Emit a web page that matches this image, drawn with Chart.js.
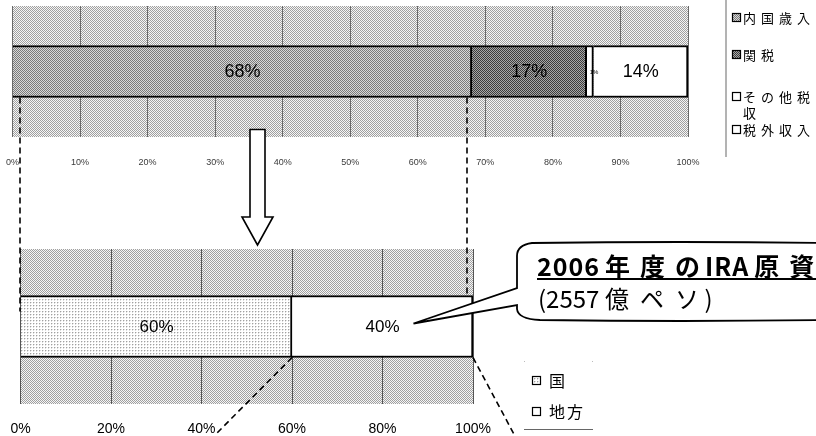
<!DOCTYPE html>
<html>
<head>
<meta charset="utf-8">
<script src="https://cdn.jsdelivr.net/npm/chart.js@4.4.1/dist/chart.umd.min.js"></script>
<style>
  html, body { margin: 0; padding: 0; background: #fff; }
  #wrap { position: relative; width: 816px; height: 436px; overflow: hidden; background: #fff; }
  #wrap canvas { position: absolute; }
  #revenueChart { left: 0; top: 0; width: 720px; height: 180px; }
  #iraChart { left: 0; top: 230px; width: 520px; height: 206px; }
  #notes { left: 0; top: 0; width: 816px; height: 436px; pointer-events: none; }
</style>
</head>
<body>
<div id="wrap">
  <canvas id="revenueChart" width="720" height="180"></canvas>
  <canvas id="iraChart" width="520" height="206"></canvas>
  <canvas id="notes" width="816" height="436"></canvas>
</div>
<script>
// National revenue composition (% of total)
const revenueSources = ['内国歳入', '関税', 'その他税収', '税外収入'];
const revenueShares = [68, 17, 1, 14];

// Split of the IRA pool between national and local government (%)
const iraRecipients = ['国', '地方'];
const iraShares = [60, 40];

// Axis ranges and tick steps
const revenueAxis = { min: 0, max: 100, step: 10 };
const iraAxis = { min: 0, max: 100, step: 20 };

// Callout text
const calloutTitle = '2006年度のIRA原資';
const calloutAmount = '(2557億ペソ)';

const CJK = '"Noto Sans CJK JP", "Noto Sans CJK SC", sans-serif';
const LATIN = '"Liberation Sans", Arial, sans-serif';

// Small raster fills that imitate the dithered shades of an office chart
function makePattern(size, paint) {
  const c = document.createElement('canvas');
  c.width = c.height = size;
  const g = c.getContext('2d');
  paint(g);
  return g.createPattern(c, 'repeat');
}
function checker(dark, light) {
  return makePattern(2, g => {
    g.fillStyle = light; g.fillRect(0, 0, 2, 2);
    g.fillStyle = dark; g.fillRect(0, 0, 1, 1); g.fillRect(1, 1, 1, 1);
  });
}
const plotShade = checker('#a0a0a0', '#f6f6f6');
const domesticShade = checker('#7a7a7a', '#d8d8d8');
const customsShade = checker('#3c3c3c', '#a8a8a8');
const nationalShade = makePattern(3, g => {
  g.fillStyle = '#ffffff'; g.fillRect(0, 0, 3, 3);
  g.fillStyle = '#a0a0a0'; g.fillRect(0, 0, 1, 1);
  g.fillStyle = '#dedede'; g.fillRect(1, 0, 1, 1); g.fillRect(0, 1, 1, 1);
});

const revenueFills = [domesticShade, customsShade, '#ffffff', '#ffffff'];
const iraFills = [nationalShade, '#ffffff'];

// Fills the plot rectangle before the grid and bars are painted
const plotFill = {
  id: 'plotFill',
  beforeDraw(chart) {
    const { left, top, width, height } = chart.chartArea;
    const ctx = chart.ctx;
    ctx.save();
    ctx.fillStyle = plotShade;
    ctx.fillRect(left, top, width, height);
    ctx.restore();
  }
};

// Percentage written in the middle of each bar segment
const segmentLabels = {
  id: 'segmentLabels',
  afterDatasetsDraw(chart) {
    const ctx = chart.ctx;
    chart.data.datasets.forEach((ds, i) => {
      chart.getDatasetMeta(i).data.forEach((bar, j) => {
        const p = bar.getCenterPoint();
        ctx.save();
        ctx.font = ds.labelFont;
        ctx.fillStyle = '#000';
        ctx.textAlign = 'center';
        ctx.textBaseline = 'middle';
        ctx.fillText(ds.data[j] + '%', p.x + (ds.labelShift || 0), p.y + 1);
        ctx.restore();
      });
    });
  }
};

function stackedBarConfig(names, values, fills, axis, opt) {
  return {
    type: 'bar',
    data: {
      labels: [''],
      datasets: names.map((name, i) => ({
        label: name,
        data: [values[i]],
        backgroundColor: fills[i],
        borderColor: '#000',
        borderWidth: opt.border,
        borderSkipped: 'start',
        barThickness: opt.thickness,
        labelFont: (opt.labelFonts && opt.labelFonts[i]) || opt.labelFont,
        labelShift: opt.labelShifts ? opt.labelShifts[i] : 0
      }))
    },
    options: {
      indexAxis: 'y',
      responsive: false,
      animation: false,
      events: [],
      layout: { padding: opt.padding },
      plugins: { legend: { display: false }, tooltip: { enabled: false } },
      scales: {
        x: {
          stacked: true,
          min: axis.min, max: axis.max,
          border: { display: false },
          // invisible tick marks push the labels down without widening the plot
          grid: { color: opt.gridColor, lineWidth: 1, drawTicks: true,
                  tickLength: opt.labelGap, tickColor: 'rgba(0,0,0,0)' },
          ticks: {
            stepSize: axis.step,
            padding: 0,
            color: opt.tickColor,
            font: { family: LATIN, size: opt.tickSize },
            maxRotation: 0,
            callback: v => v + '%'
          },
          afterFit: s => { s.height = opt.axisHeight; }
        },
        y: { stacked: true, display: false }
      }
    },
    plugins: [plotFill, segmentLabels]
  };
}

const revenueChart = new Chart(document.getElementById('revenueChart'),
  stackedBarConfig(revenueSources, revenueShares, revenueFills, revenueAxis, {
    padding: { left: 12.5, right: 32, top: 6, bottom: 0 },
    axisHeight: 43, labelGap: 20, tickSize: 9, tickColor: '#3a3a3a',
    gridColor: '#6a6a6a', thickness: 52, border: 2,
    labelFont: '18px ' + LATIN,
    labelFonts: [null, null, '6px ' + LATIN, null],
    labelShifts: [0, 0, 4, 0]
  }));

const iraChart = new Chart(document.getElementById('iraChart'),
  stackedBarConfig(iraRecipients, iraShares, iraFills, iraAxis, {
    padding: { left: 20.5, right: 47, top: 19, bottom: 0 },
    axisHeight: 32, labelGap: 17, tickSize: 14, tickColor: '#000',
    gridColor: '#555', thickness: 62, border: 2,
    labelFont: '17px ' + LATIN
  }));

// ---- annotations: connectors, arrow, legends, callout ----
const ctx = document.getElementById('notes').getContext('2d');
const iraTop = 230; // vertical offset of the lower chart's canvas

const revBar = revenueChart.getDatasetMeta(0).data[0];
const revBarBottom = revBar.y + revBar.height / 2;
const iraLocal = iraChart.getDatasetMeta(1).data[0];
const iraBarTop = iraTop + iraLocal.y - iraLocal.height / 2;
const iraBarBottom = iraTop + iraLocal.y + iraLocal.height / 2;
const ix = v => iraChart.scales.x.getPixelForValue(v);

ctx.strokeStyle = '#000';
ctx.lineWidth = 1.6;
ctx.setLineDash([6, 4]);
ctx.beginPath();
ctx.moveTo(20, revBarBottom); ctx.lineTo(20, iraBarTop + 16);
ctx.moveTo(467, revBarBottom); ctx.lineTo(467, iraBarTop);
ctx.moveTo(ix(60), iraBarBottom); ctx.lineTo(216, 434);
ctx.moveTo(ix(100), iraBarBottom); ctx.lineTo(516, 438);
ctx.stroke();
ctx.setLineDash([]);

// hollow down arrow between the two charts
(function drawArrow(cx, top, tip) {
  const shaftHalf = 7.5, headHalf = 15.5, headLen = 28;
  ctx.beginPath();
  ctx.moveTo(cx - shaftHalf, top);
  ctx.lineTo(cx + shaftHalf, top);
  ctx.lineTo(cx + shaftHalf, tip - headLen);
  ctx.lineTo(cx + headHalf, tip - headLen);
  ctx.lineTo(cx, tip);
  ctx.lineTo(cx - headHalf, tip - headLen);
  ctx.lineTo(cx - shaftHalf, tip - headLen);
  ctx.closePath();
  ctx.fillStyle = '#fff';
  ctx.fill();
  ctx.lineWidth = 1.6;
  ctx.stroke();
})(257.5, 129.5, 245);

function swatch(x, y, fill) {
  ctx.fillStyle = fill;
  ctx.fillRect(x, y, 9, 9);
  ctx.strokeStyle = '#000';
  ctx.lineWidth = 1.2;
  ctx.strokeRect(x + 0.5, y + 0.5, 8, 8);
}

// Text laid out on a grid: half-width advance for ASCII, a full cell for CJK
function cellText(text, x, y, cjkAdvance, asciiExtra) {
  ctx.letterSpacing = '0px';
  let cx = x;
  for (const ch of text) {
    const w = ctx.measureText(ch).width;
    if (ch.charCodeAt(0) < 128) {
      ctx.fillText(ch, cx, y);
      cx += w + asciiExtra;
    } else {
      ctx.fillText(ch, cx + (cjkAdvance - w) / 2, y);
      cx += cjkAdvance;
    }
  }
  return cx - x;
}

// legend of the revenue chart
ctx.strokeStyle = '#9a9a9a';
ctx.lineWidth = 1.5;
ctx.beginPath(); ctx.moveTo(726, 0); ctx.lineTo(726, 157); ctx.stroke();
ctx.font = '13px ' + CJK;
ctx.letterSpacing = '5px';
ctx.textBaseline = 'middle';
const revLegendY = [18, 55, 97, 130];
revenueChart.data.datasets.forEach((ds, i) => {
  const y = revLegendY[i];
  swatch(732, y - 5, ds.backgroundColor);
  // wrap the name onto a second line when it is too long for the column
  let line = '', lines = [];
  for (const ch of ds.label) {
    if (ctx.measureText(line + ch).width > 76 && line) { lines.push(line); line = ch; }
    else line += ch;
  }
  lines.push(line);
  ctx.fillStyle = '#000';
  lines.forEach((l, k) => ctx.fillText(l, 743, y + k * 16));
});

// legend of the IRA chart
ctx.fillStyle = '#bbb';
ctx.fillRect(524, 361, 1, 1); ctx.fillRect(592, 361, 1, 1);
ctx.font = '16px ' + CJK;
ctx.letterSpacing = '2px';
const iraLegendY = [381, 412];
iraChart.data.datasets.forEach((ds, i) => {
  swatch(532, iraLegendY[i] - 5, ds.backgroundColor);
  ctx.fillStyle = '#000';
  ctx.fillText(ds.label, 549, iraLegendY[i]);
});
ctx.letterSpacing = '0px';
ctx.strokeStyle = '#666';
ctx.lineWidth = 1;
ctx.beginPath(); ctx.moveTo(524, 429.5); ctx.lineTo(593, 429.5); ctx.stroke();

// callout pointing at the local-government share
const tip = iraLocal.getCenterPoint();
const tipX = tip.x + 31, tipY = iraTop + tip.y - 3;
ctx.beginPath();
ctx.moveTo(830, 243);
ctx.quadraticCurveTo(680, 241, 532, 243);
ctx.quadraticCurveTo(517, 245, 517, 256);
ctx.lineTo(517, 288);
ctx.lineTo(tipX, tipY);
ctx.lineTo(517, 305);
ctx.lineTo(517, 309);
ctx.quadraticCurveTo(518, 319, 540, 320);
ctx.quadraticCurveTo(680, 322, 830, 320);
ctx.fillStyle = '#fff';
ctx.fill();
ctx.strokeStyle = '#000';
ctx.lineWidth = 1.8;
ctx.stroke();

ctx.fillStyle = '#000';
ctx.textBaseline = 'alphabetic';
ctx.font = 'bold 25px ' + CJK;
cellText(calloutTitle, 537, 276, 35, 1);
ctx.fillRect(537, 278, 290, 2);
ctx.font = '24px ' + CJK;
cellText(calloutAmount, 538, 308, 35, 0);
</script>
</body>
</html>
